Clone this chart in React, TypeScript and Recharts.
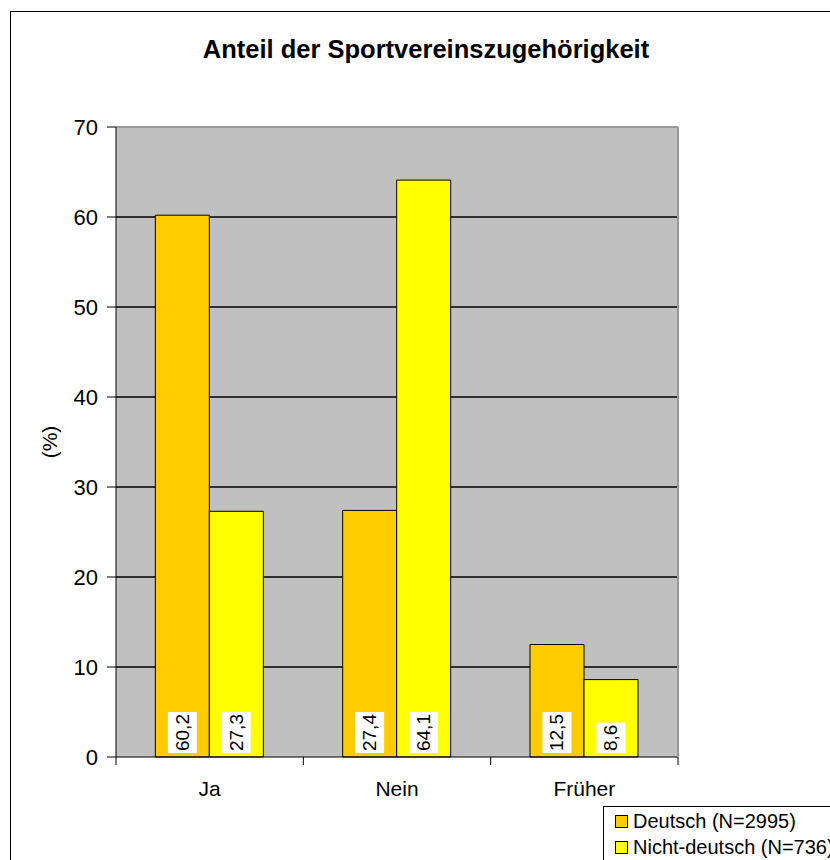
import { BarChart, Bar, XAxis, YAxis, CartesianGrid, LabelList } from 'recharts';

const categories = ['Ja', 'Nein', 'Früher'];
const deutsch = [60.2, 27.4, 12.5];
const nichtDeutsch = [27.3, 64.1, 8.6];
const yTicks = [0, 10, 20, 30, 40, 50, 60, 70];
const gridValues = [10, 20, 30, 40, 50, 60];
const seriesNames = ['Deutsch (N=2995)', 'Nicht-deutsch (N=736)'];
const seriesColors = ['#FFCC00', '#FFFF00'];

const data = categories.map((cat, i) => ({ cat, deutsch: deutsch[i], nicht: nichtDeutsch[i] }));

const FONT = '"Liberation Sans", Arial, sans-serif';

const fmt = (v: number) => v.toFixed(1).replace('.', ',');

// rotated value label on a white box at the foot of the bar
const ValueLabel = (props: any) => {
  const { x, y, width, height, value } = props;
  const text = fmt(Number(value));
  const fs = 19;
  const textLen = text.split('').reduce((s, c) => s + (c === ',' ? 0.278 : 0.556), 0) * fs;
  const boxLen = textLen + 4;
  const cx = x + width / 2;
  const bottom = y + height - 4;
  const cy = bottom - boxLen / 2;
  return (
    <g>
      <rect x={cx - 14.5} y={bottom - boxLen} width={29} height={boxLen} fill="#fff" />
      <text
        x={cx}
        y={cy}
        transform={`rotate(-90 ${cx} ${cy})`}
        textAnchor="middle"
        dominantBaseline="central"
        fontSize={fs}
        fontFamily={FONT}
        fill="#000"
      >
        {text}
      </text>
    </g>
  );
};

// y axis title, centred on the axis
const AxisTitle = (props: any) => {
  const vb = props.viewBox || { x: 0, y: 0, width: 0, height: 0 };
  const cx = vb.x + 3;
  const cy = vb.y + vb.height / 2;
  return (
    <text
      x={cx}
      y={cy}
      transform={`rotate(-90 ${cx} ${cy})`}
      textAnchor="middle"
      dominantBaseline="central"
      fontSize={21}
      fontFamily={FONT}
      fill="#000"
    >
      (%)
    </text>
  );
};

// category label plus tick marks on the band boundaries
const CatTick = (props: any) => {
  const { x, y, payload, index } = props;
  const half = payload?.offset ?? 0;
  return (
    <g>
      {index === 0 && <line x1={x - half} x2={x - half} y1={y} y2={y + 8} stroke="#000" />}
      <line x1={x + half} x2={x + half} y1={y} y2={y + 8} stroke="#000" />
      <text x={x} y={y + 39} textAnchor="middle" fontSize={21} fontFamily={FONT} fill="#000">
        {payload.value}
      </text>
    </g>
  );
};

const App = () => {
  return (
    <div style={{ position: 'absolute', left: 0, top: 0, width: 830, height: 860, overflow: 'hidden', background: '#fff', fontFamily: FONT }}>
      <div style={{ position: 'absolute', left: 10, top: 11, width: 900, height: 900, border: '1px solid #000' }} />
      <div style={{ position: 'absolute', left: 126, width: 600, top: 33, textAlign: 'center', fontWeight: 'bold', fontSize: 25.5, lineHeight: '32px', color: '#000' }}>
        Anteil der Sportvereinszugehörigkeit
      </div>
      <div style={{ position: 'absolute', left: 0, top: 0 }}>
        <BarChart
          width={830}
          height={860}
          data={data}
          margin={{ top: 126, right: 151, left: 46, bottom: 63 }}
          barCategoryGap="21%"
          barGap={0}
        >
          <CartesianGrid fill="#C0C0C0" stroke="#000" strokeWidth={1.3} vertical={false} horizontalValues={gridValues} />
          <XAxis
            dataKey="cat"
            height={40}
            axisLine={{ stroke: '#000' }}
            tickLine={false}
            tickSize={0}
            tickMargin={0}
            tick={CatTick}
            interval={0}
          />
          <XAxis xAxisId="top" dataKey="cat" orientation="top" height={1} axisLine={{ stroke: '#999', strokeWidth: 2 }} tick={false} tickLine={false} />
          <YAxis
            domain={[0, 70]}
            ticks={yTicks}
            width={70}
            axisLine={{ stroke: '#000' }}
            tickLine={{ stroke: '#000' }}
            tickSize={9}
            tickMargin={9}
            tick={{ fontSize: 22, fill: '#000', fontFamily: FONT }}
            label={<AxisTitle />}
          />
          <YAxis yAxisId="right" orientation="right" width={1} domain={[0, 70]} axisLine={{ stroke: '#999', strokeWidth: 2 }} tick={false} tickLine={false} />
          <Bar dataKey="deutsch" name={seriesNames[0]} fill={seriesColors[0]} stroke="#000" strokeWidth={1} isAnimationActive={false}>
            <LabelList dataKey="deutsch" content={ValueLabel} />
          </Bar>
          <Bar dataKey="nicht" name={seriesNames[1]} fill={seriesColors[1]} stroke="#000" strokeWidth={1} isAnimationActive={false}>
            <LabelList dataKey="nicht" content={ValueLabel} />
          </Bar>
        </BarChart>
      </div>
      <div style={{ position: 'absolute', left: 603, top: 806, width: 260, height: 80, border: '1px solid #000', background: '#fff' }}>
        {seriesNames.map((name, i) => (
          <div key={name} style={{ position: 'absolute', left: 11, top: 1 + i * 26, height: 26, display: 'flex', alignItems: 'center', fontSize: 20, color: '#000', whiteSpace: 'nowrap' }}>
            <span style={{ display: 'inline-block', width: 11, height: 11, background: seriesColors[i], border: '1px solid #000', marginRight: 5 }} />
            {name}
          </div>
        ))}
      </div>
    </div>
  );
};

export default App;
